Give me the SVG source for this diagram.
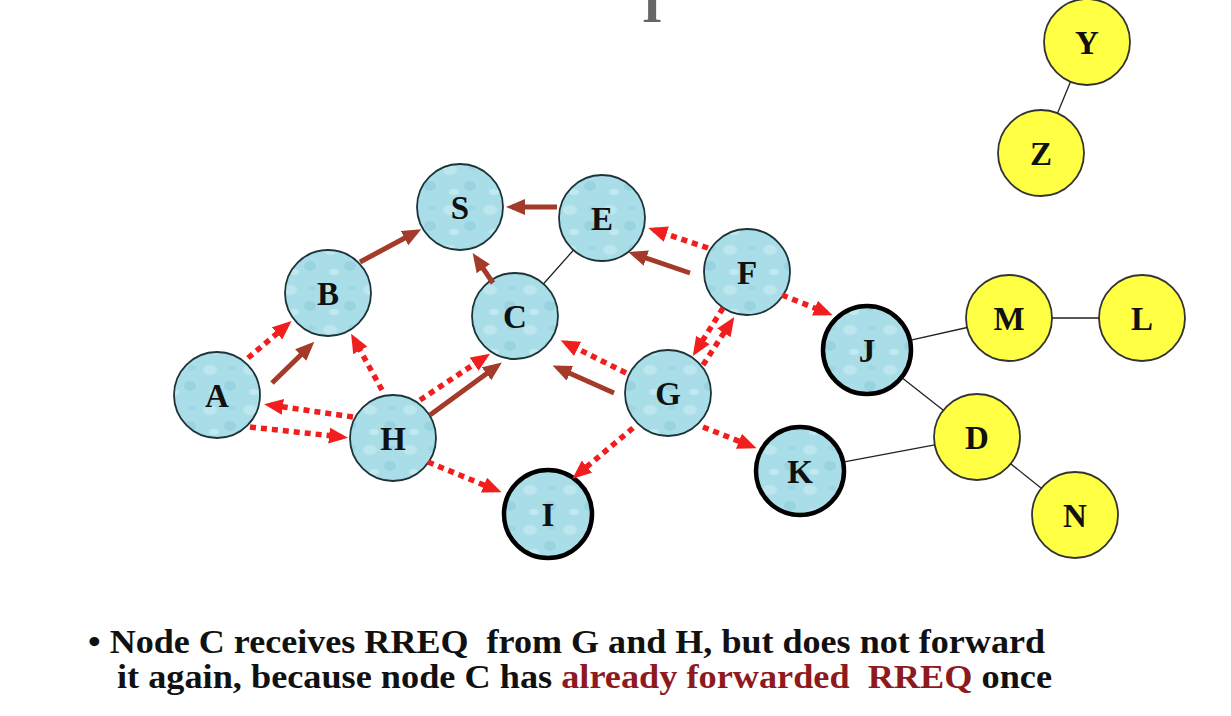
<svg xmlns="http://www.w3.org/2000/svg" width="1231" height="716" viewBox="0 0 1231 716">
<defs>
<style>
.nb{fill:url(#tex);stroke:#1d3338;stroke-width:1.8}
.tk{stroke:#000;stroke-width:4.5}
.ny{fill:#FFFF44;stroke:#333;stroke-width:1.8}
.lb{font-family:"Liberation Serif","Times New Roman",serif;font-weight:bold;font-size:33px;fill:#111;text-anchor:middle}
.s{stroke:#A33A2A;stroke-width:5;fill:none;marker-end:url(#ab)}
.d{stroke:#F21E1E;stroke-width:5.5;fill:none;stroke-dasharray:6 5;marker-end:url(#ar)}
.t{stroke:#222;stroke-width:1.3;fill:none}
.bt{font-family:"Liberation Serif","Times New Roman",serif;font-weight:bold;font-size:33px;fill:#111;white-space:pre}
.rd{fill:#8E1A1E}
</style>
<pattern id="tex" width="40" height="40" patternUnits="userSpaceOnUse">
<rect width="40" height="40" fill="#A9DDE8"/>
<ellipse cx="10" cy="10" rx="7" ry="5" fill="#C2E8F0" opacity="0.8"/>
<ellipse cx="30" cy="26" rx="6" ry="5" fill="#93CFDC" opacity="0.7"/>
<ellipse cx="14" cy="32" rx="5" ry="3" fill="#C8ECF3" opacity="0.8"/>
<ellipse cx="32" cy="8" rx="4" ry="3" fill="#9AD3DF" opacity="0.7"/>
</pattern>
<marker id="ab" markerUnits="userSpaceOnUse" markerWidth="20" markerHeight="18" refX="13" refY="8" orient="auto">
<path d="M0,0 L19,8 L0,16 z" fill="#A33A2A"/>
</marker>
<marker id="ar" markerUnits="userSpaceOnUse" markerWidth="20" markerHeight="18" refX="13" refY="8" orient="auto">
<path d="M0,0 L19,8 L0,16 z" fill="#F21E1E"/>
</marker>
</defs>
<rect width="1231" height="716" fill="#fff"/>
<text x="652" y="22" font-family="Liberation Serif, serif" font-weight="bold" font-size="52" fill="#666" text-anchor="middle">I</text>

<g id="n-S"><circle class="nb" cx="460" cy="207" r="43"/><text class="lb" x="460" y="219">S</text></g>
<g id="n-E"><circle class="nb" cx="602" cy="218" r="43"/><text class="lb" x="602" y="230">E</text></g>
<g id="n-B"><circle class="nb" cx="328" cy="293" r="43"/><text class="lb" x="328" y="305">B</text></g>
<g id="n-C"><circle class="nb" cx="515" cy="316" r="43"/><text class="lb" x="515" y="328">C</text></g>
<g id="n-F"><circle class="nb" cx="747" cy="272" r="43"/><text class="lb" x="747" y="284">F</text></g>
<g id="n-A"><circle class="nb" cx="217" cy="395" r="43"/><text class="lb" x="217" y="407">A</text></g>
<g id="n-H"><circle class="nb" cx="393" cy="438" r="43"/><text class="lb" x="393" y="450">H</text></g>
<g id="n-G"><circle class="nb" cx="668" cy="393" r="43"/><text class="lb" x="668" y="405">G</text></g>
<g id="n-I"><circle class="nb tk" cx="548" cy="514" r="44"/><text class="lb" x="548" y="526">I</text></g>
<g id="n-J"><circle class="nb tk" cx="867" cy="350" r="44"/><text class="lb" x="867" y="362">J</text></g>
<g id="n-K"><circle class="nb tk" cx="800" cy="471" r="44"/><text class="lb" x="800" y="483">K</text></g>
<g id="n-M"><circle class="ny" cx="1009" cy="318" r="43"/><text class="lb" x="1009" y="330">M</text></g>
<g id="n-L"><circle class="ny" cx="1142" cy="318" r="43"/><text class="lb" x="1142" y="330">L</text></g>
<g id="n-D"><circle class="ny" cx="977" cy="437" r="43"/><text class="lb" x="977" y="449">D</text></g>
<g id="n-N"><circle class="ny" cx="1075" cy="515" r="43"/><text class="lb" x="1075" y="527">N</text></g>
<g id="n-Y"><circle class="ny" cx="1087" cy="42" r="43"/><text class="lb" x="1087" y="54">Y</text></g>
<g id="n-Z"><circle class="ny" cx="1041" cy="153" r="43"/><text class="lb" x="1041" y="165">Z</text></g>

<g id="connectors">
<line class="t" x1="573.4" y1="250.2" x2="543.6" y2="283.8"/>
<line class="t" x1="1070.5" y1="81.7" x2="1057.5" y2="113.3"/>
<line class="t" x1="1052" y1="318" x2="1099" y2="318"/>
<line class="t" x1="910.9" y1="340.1" x2="967.1" y2="327.5"/>
<line class="t" x1="902.3" y1="377.9" x2="943.3" y2="410.3"/>
<line class="t" x1="844.2" y1="461.8" x2="934.7" y2="444.9"/>
<line class="t" x1="1010.7" y1="463.8" x2="1041.3" y2="488.2"/>

<line class="s" x1="272" y1="383" x2="310" y2="346"/>
<line class="s" x1="360" y1="262" x2="416" y2="232"/>
<line class="s" x1="557" y1="207" x2="512" y2="207"/>
<line class="s" x1="493" y1="283" x2="476" y2="258"/>
<line class="s" x1="690" y1="273" x2="634" y2="254"/>
<line class="s" x1="430" y1="415" x2="497" y2="366"/>
<line class="s" x1="614" y1="393" x2="558" y2="368"/>

<line class="d" x1="248" y1="358" x2="287" y2="325"/>
<line class="d" x1="382" y1="390" x2="354" y2="339"/>
<line class="d" x1="353" y1="417" x2="270" y2="405"/>
<line class="d" x1="250" y1="427" x2="342" y2="437"/>
<line class="d" x1="420" y1="400" x2="485" y2="357"/>
<line class="d" x1="428" y1="462" x2="496" y2="490"/>
<line class="d" x1="626" y1="373" x2="566" y2="343"/>
<line class="d" x1="633" y1="428" x2="577" y2="475"/>
<line class="d" x1="703" y1="365" x2="731" y2="322"/>
<line class="d" x1="723" y1="308" x2="696" y2="351"/>
<line class="d" x1="708" y1="248" x2="654" y2="230"/>
<line class="d" x1="782" y1="295" x2="827" y2="313"/>
<line class="d" x1="703" y1="427" x2="751" y2="446"/>
</g>

<text class="bt" x="88" y="653" textLength="957" lengthAdjust="spacingAndGlyphs">• Node C receives RREQ  from G and H, but does not forward</text>
<text class="bt" x="117" y="688" textLength="935" lengthAdjust="spacingAndGlyphs">it again, because node C has <tspan class="rd">already forwarded  RREQ</tspan> once</text>
</svg>
